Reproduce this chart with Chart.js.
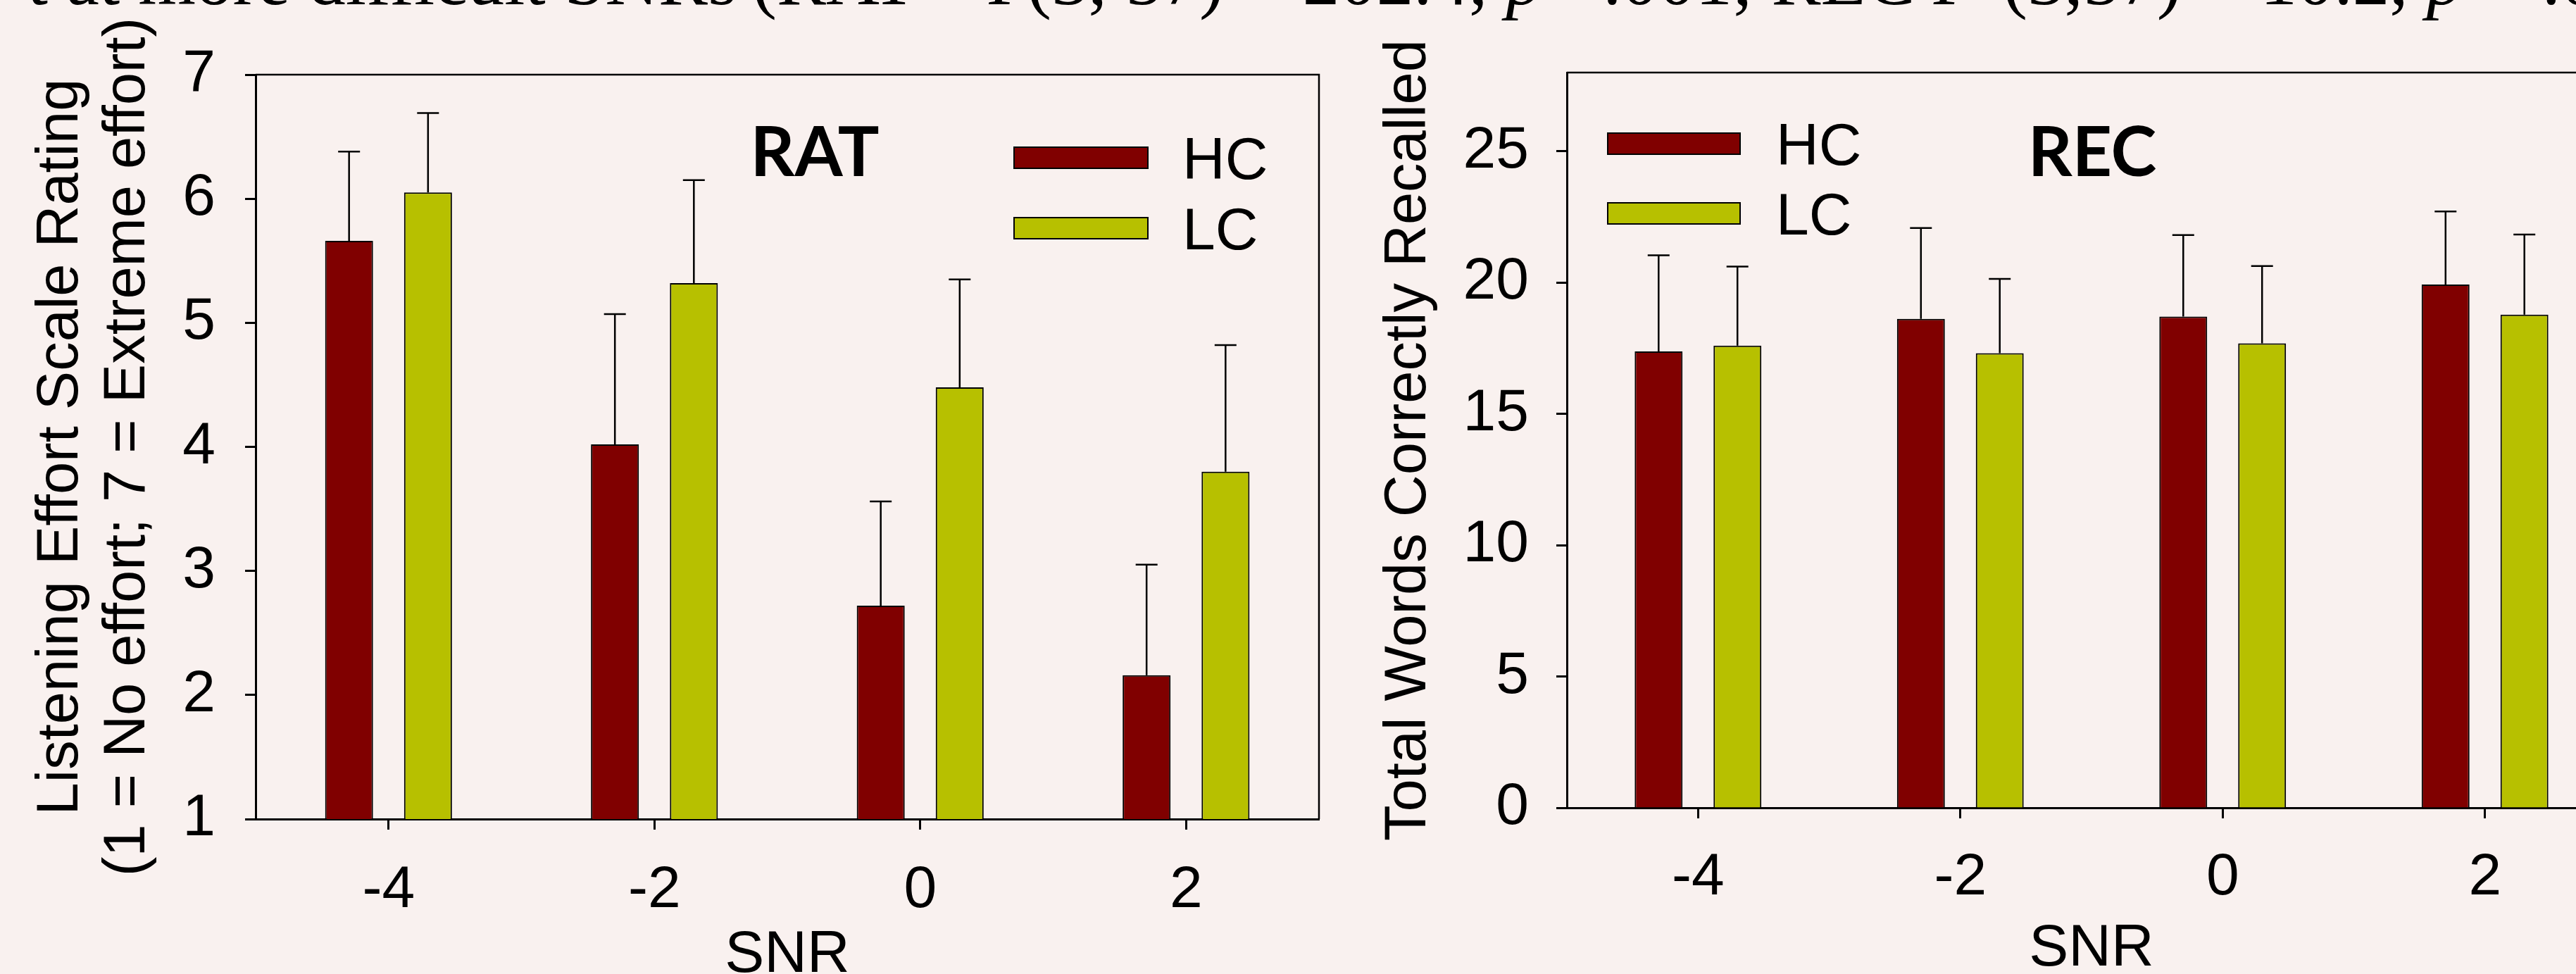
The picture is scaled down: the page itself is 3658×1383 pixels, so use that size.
<!DOCTYPE html>
<html>
<head>
<meta charset="utf-8">
<script src="https://cdn.jsdelivr.net/npm/chart.js@4.4.1/dist/chart.umd.min.js"></script>
<style>
  html, body { margin: 0; padding: 0; width: 3658px; height: 1383px; overflow: hidden; background: #F9F1EF; }
  #ratBox { position: absolute; left: 0; top: 0; width: 1900px; height: 1383px; }
  #recBox { position: absolute; left: 1900px; top: 0; width: 1842px; height: 1383px; }
  .cut { position: absolute; top: -82px; font: 105px "Liberation Serif", serif; line-height: 105px; white-space: nowrap; color: #000; }
  .cut i { font-style: italic; }
</style>
</head>
<body>
<div class="cut" style="right:2612px;">t at more difficult SNRs</div>
<div class="cut" style="left:1068px;">(RAT &ndash; <i>F</i></div>
<div class="cut" style="left:1458px;">(3, 57) = 202.4, <i>p</i> &lt;.001; REC <i>F</i></div>
<div class="cut" style="left:2844px;">(3,57) = 10.2, <i>p</i> = .0</div>

<div id="ratBox"><canvas id="ratChart"></canvas></div>
<div id="recBox"><canvas id="recChart"></canvas></div>

<script>
(function () {
    "use strict";

    // data
    var snrLabels = ["-4", "-2", "0", "2"];
    var groupNames = ["HC", "LC"];
    var groupColors = ["#800000", "#B7C000"];

    var ratHC = [5.66, 4.02, 2.72, 2.16];
    var ratLC = [6.05, 5.32, 4.48, 3.80];
    var ratHCsd = [0.72, 1.05, 0.84, 0.89];
    var ratLCsd = [0.64, 0.83, 0.87, 1.02];

    var recHC = [17.38, 18.62, 18.71, 19.93];
    var recLC = [17.60, 17.31, 17.69, 18.78];
    var recHCsd = [3.66, 3.46, 3.10, 2.78];
    var recLCsd = [3.01, 2.83, 2.94, 3.05];

    Chart.defaults.font.family = '"Liberation Sans", Arial, sans-serif';
    Chart.defaults.color = "#000";

    // upper error bars
    var errorBars = {
        id: "errorBars",
        afterDatasetsDraw: function (chart) {
            var ctx = chart.ctx;
            var yScale = chart.scales.y;
            ctx.save();
            ctx.strokeStyle = "#000";
            ctx.lineWidth = 2.5;
            chart.data.datasets.forEach(function (ds, i) {
                chart.getDatasetMeta(i).data.forEach(function (bar, j) {
                    var yTop = yScale.getPixelForValue(ds.data[j] + ds.errors[j]);
                    ctx.beginPath();
                    ctx.moveTo(bar.x, bar.y);
                    ctx.lineTo(bar.x, yTop);
                    ctx.moveTo(bar.x - 15.5, yTop);
                    ctx.lineTo(bar.x + 15.5, yTop);
                    ctx.stroke();
                });
            });
            ctx.restore();
        }
    };

    // top/right frame, panel title and legend
    var panelDecor = {
        id: "panelDecor",
        afterDraw: function (chart, args, opts) {
            var ctx = chart.ctx;
            var a = chart.chartArea;
            ctx.save();
            ctx.strokeStyle = "#000";
            ctx.lineWidth = 2.5;
            ctx.beginPath();
            ctx.moveTo(a.left, a.top);
            ctx.lineTo(a.right, a.top);
            ctx.lineTo(a.right, a.bottom);
            ctx.stroke();

            ctx.fillStyle = "#000";
            ctx.font = "bold 98px Lato, sans-serif";
            ctx.textAlign = "center";
            ctx.textBaseline = "alphabetic";
            ctx.fillText(opts.title, opts.titleX, opts.titleY);

            ctx.textAlign = "left";
            ctx.font = '84px "Liberation Sans", Arial, sans-serif';
            chart.data.datasets.forEach(function (ds, i) {
                var y = opts.boxY + i * opts.rowGap;
                ctx.fillStyle = ds.backgroundColor;
                ctx.fillRect(opts.boxX, y, opts.boxW, 30);
                ctx.lineWidth = 2;
                ctx.strokeRect(opts.boxX, y, opts.boxW, 30);
                ctx.fillStyle = "#000";
                ctx.fillText(ds.label, opts.textX, y + 45);
            });
            ctx.restore();
        }
    };

    function makeDatasets(hc, lc, hcSd, lcSd, catPct) {
        return [hc, lc].map(function (vals, i) {
            return {
                label: groupNames[i],
                data: vals,
                errors: [hcSd, lcSd][i],
                backgroundColor: groupColors[i],
                borderColor: "#000",
                borderWidth: 2,
                categoryPercentage: catPct,
                barPercentage: 0.607
            };
        });
    }

    function makeChart(el, cfg) {
        return new Chart(el.getContext("2d"), {
            type: "bar",
            data: {
                labels: snrLabels,
                datasets: makeDatasets(cfg.hc, cfg.lc, cfg.hcSd, cfg.lcSd, cfg.catPct)
            },
            plugins: [errorBars, panelDecor],
            options: {
                responsive: true,
                maintainAspectRatio: false,
                animation: false,
                layout: { padding: { left: 0, top: cfg.top, right: 27, bottom: 0 } },
                plugins: {
                    legend: { display: false },
                    tooltip: { enabled: false },
                    panelDecor: cfg.decor
                },
                scales: {
                    x: {
                        ticks: { font: { size: 84 }, padding: cfg.xPad },
                        grid: { offset: false, drawOnChartArea: false, tickLength: 15, tickColor: "#000", tickWidth: 3 },
                        border: { color: "#000", width: 3 },
                        title: { display: true, text: "SNR", font: { size: 84, lineHeight: cfg.snrLH }, padding: 0 },
                        afterFit: function (s) { s.height = cfg.xHeight; }
                    },
                    y: {
                        min: cfg.yMin,
                        max: cfg.yMax,
                        ticks: { stepSize: cfg.yStep, includeBounds: false, font: { size: 84 }, padding: cfg.yPad },
                        grid: { drawOnChartArea: false, tickLength: 15, tickColor: "#000", tickWidth: 3 },
                        border: { color: "#000", width: 3 },
                        title: { display: true, text: cfg.yTitle, font: { size: 83, lineHeight: 1.145 }, padding: { top: cfg.yTitlePad, bottom: 0 } },
                        afterFit: function (s) { s.width = cfg.yWidth; }
                    }
                }
            }
        });
    }

    makeChart(document.getElementById("ratChart"), {
        hc: ratHC, lc: ratLC, hcSd: ratHCsd, lcSd: ratLCsd,
        catPct: 0.594, top: 106, xHeight: 220, yWidth: 363,
        xPad: 36, yPad: 42, snrLH: 0.62,
        yMin: 1, yMax: 7, yStep: 1,
        yTitle: ["Listening Effort Scale Rating", "(1 = No effort; 7 = Extreme effort)"],
        yTitlePad: 40,
        decor: { title: "RAT", titleX: 1157, titleY: 250, boxX: 1440, boxY: 209, boxW: 190, rowGap: 100, textX: 1679 }
    });

    makeChart(document.getElementById("recChart"), {
        hc: recHC, lc: recLC, hcSd: recHCsd, lcSd: recLCsd,
        catPct: 0.601, top: 103, xHeight: 236, yWidth: 325,
        xPad: 34, yPad: 39, snrLH: 0.83,
        yMin: 0, yMax: 28, yStep: 5,
        yTitle: "Total Words Correctly Recalled",
        yTitlePad: 54,
        decor: { title: "REC", titleX: 1071, titleY: 250, boxX: 383, boxY: 189, boxW: 188, rowGap: 99, textX: 622 }
    });
})();
</script>
</body>
</html>
